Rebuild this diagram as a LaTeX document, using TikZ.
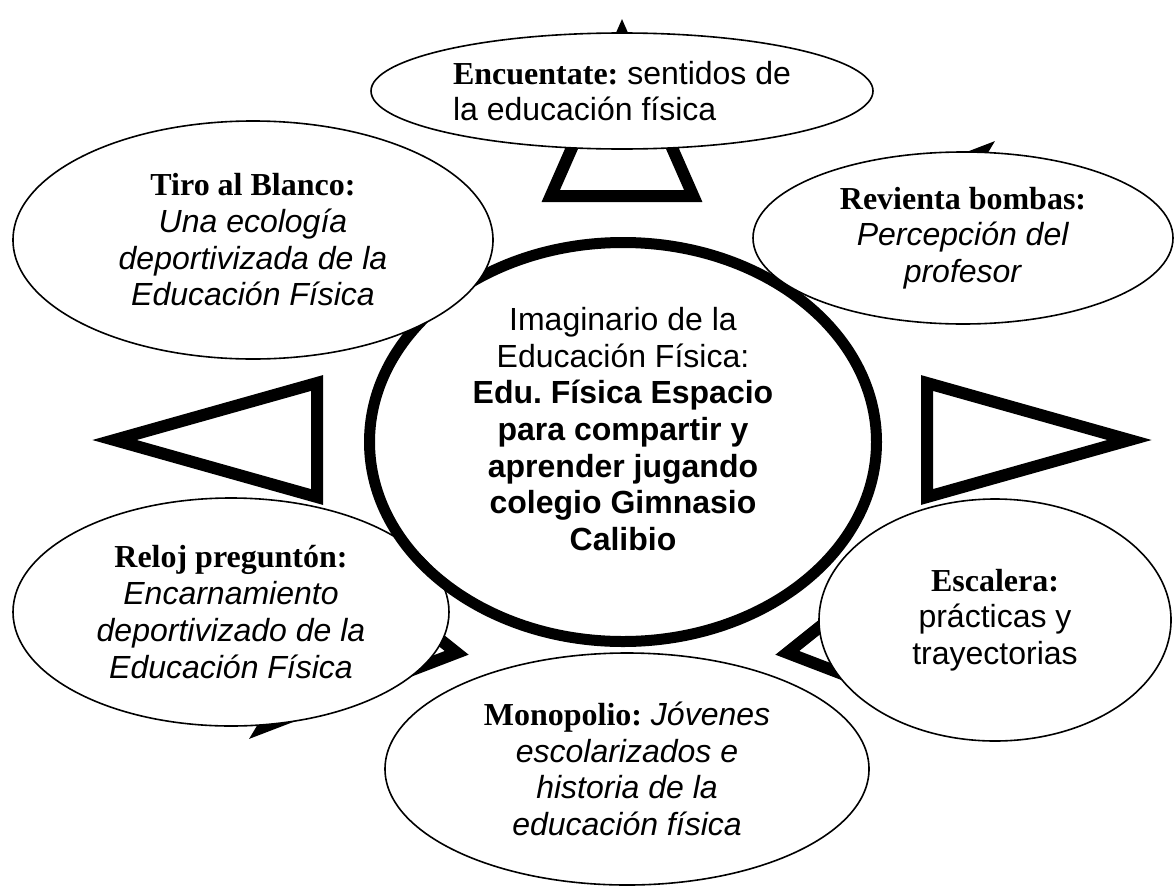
\documentclass[tikz,border=0pt]{standalone}
\usepackage{fontspec}
\setmainfont{Liberation Sans}
\newfontfamily\serifbf{Liberation Serif}
\usetikzlibrary{shapes.geometric}
\frenchspacing

\newcommand{\gamename}[1]{{\serifbf\bfseries #1}}

\begin{document}
\begin{tikzpicture}[x=1pt, y=-1pt,
        every node/.style={font=\fontsize{32}{36.7}\selectfont},
        bubble/.style={draw, ellipse, fill=white, line width=1.6pt, inner sep=0pt, align=center},
        hub/.style={draw, ellipse, line width=11pt, inner sep=0pt},
        tri/.style={draw, fill=white, line width=12pt, line join=miter}]
        \useasboundingbox (0, 0) rectangle (1174, 886);

        % arrow heads round the hub
        \begin{scope}[shift={(622, 440)}, xscale=1.25]
            \foreach \a in {0, -45, -90, 180, 135, 45}
                \draw[tri] (\a:406) -- ({244*cos(\a)-57*sin(\a)}, {244*sin(\a)+57*cos(\a)})
                    -- ({244*cos(\a)+57*sin(\a)}, {244*sin(\a)-57*cos(\a)}) -- cycle;
        \end{scope}

        \node[bubble, minimum width=436pt, minimum height=228pt] (reloj) at (231, 612)
            {\gamename{Reloj preguntón:} \\ \textit{Encarnamiento} \\ \textit{deportivizado de la} \\ \textit{Educación Física}};
        \node[bubble, minimum width=352pt, minimum height=242pt] (esc) at (995, 620)
            {\gamename{Escalera:} \\ prácticas y \\ trayectorias};
        \node[bubble, minimum width=484pt, minimum height=232pt] (mono) at (627, 769)
            {\gamename{Monopolio:} \textit{Jóvenes} \\ \textit{escolarizados e} \\ \textit{historia de la} \\ \textit{educación física}};

        \node[hub, minimum width=507pt, minimum height=399pt] (core) at (623, 442) {};
        \node[align=center] (corelabel) at (623, 429)
            {Imaginario de la \\ Educación Física: \\ \textbf{Edu. Física Espacio} \\ \textbf{para compartir y} \\
             \textbf{aprender jugando} \\ \textbf{colegio Gimnasio} \\ \textbf{Calibio}};

        \node[bubble, minimum width=480pt, minimum height=238pt] (tiro) at (253, 240)
            {\gamename{Tiro al Blanco:} \\ \textit{Una ecología} \\ \textit{deportivizada de la} \\ \textit{Educación Física}};
        \node[bubble, minimum width=420pt, minimum height=172pt] (rev) at (963, 238)
            {\gamename{Revienta bombas:} \\ \textit{Percepción del} \\ \textit{profesor}};
        \node[bubble, align=left, minimum width=502pt, minimum height=116pt] (enc) at (622, 91)
            {\gamename{Encuentate:} sentidos de \\ la educación física};
\end{tikzpicture}
\end{document}
